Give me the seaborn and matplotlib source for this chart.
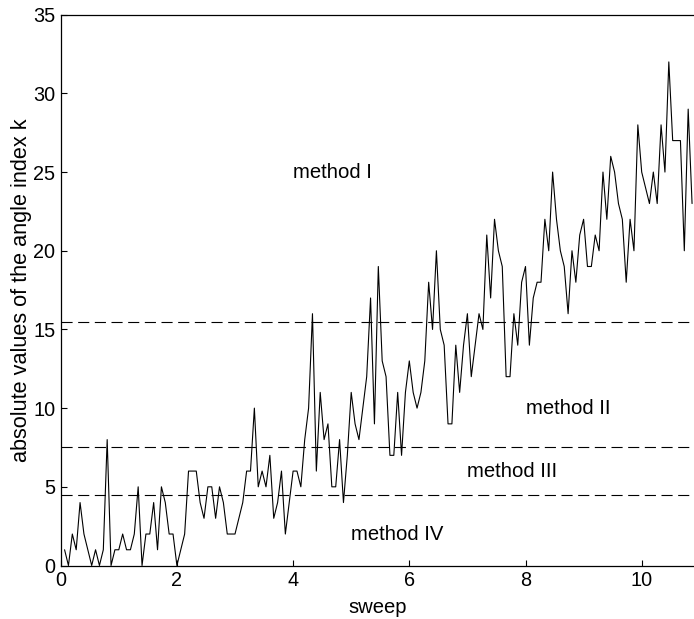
import numpy as np
import pandas as pd
import matplotlib
matplotlib.use("Agg")
import matplotlib.pyplot as plt
import seaborn as sns

# |k| per sample, one sample every 1/15 sweep
k_values = [
    1, 0, 2, 1, 4, 2, 1, 0, 1, 0, 1, 8, 0, 1, 1, 2, 1, 1, 2, 5, 0, 2, 2, 4, 1, 5, 4, 2, 2,
    0, 1, 2, 6, 6, 6, 4, 3, 5, 5, 3, 5, 4, 2, 2, 2, 3, 4, 6, 6, 10, 5, 6, 5, 7, 3, 4, 6,
    2, 4, 6, 6, 5, 8, 10, 16, 6, 11, 8, 9, 5, 5, 8, 4, 7, 11, 9, 8, 10, 12, 17, 9, 19, 13, 12,
    7, 7, 11, 7, 11, 13, 11, 10, 11, 13, 18, 15, 20, 15, 14, 9, 9, 14, 11, 14, 16, 12, 14, 16, 15, 21, 17, 22,
    20, 19, 12, 12, 16, 14, 18, 19, 14, 17, 18, 18, 22, 20, 25, 22, 20, 19, 16, 20, 18, 21, 22, 19, 19, 21, 20, 25,
    22, 26, 25, 23, 22, 18, 22, 20, 28, 25, 24, 23, 25, 23, 28, 25, 32, 27, 27, 27, 20, 29, 23,
]
samples_per_sweep = 15
sweep = [(i + 1) / samples_per_sweep for i in range(len(k_values))]

thresholds = [4.5, 7.5, 15.5]
region_labels = ["method I", "method II", "method III", "method IV"]
label_pos = [(4.0, 25), (8.0, 10), (7.0, 6), (5.0, 2)]

x_ticks = [0, 2, 4, 6, 8, 10]
y_ticks = [0, 5, 10, 15, 20, 25, 30, 35]

sns.set_style("ticks")
plt.rcParams["font.family"] = ["Liberation Sans", "DejaVu Sans"]
plt.rcParams["text.color"] = "black"
plt.rcParams["axes.labelcolor"] = "black"

df = pd.DataFrame({"sweep": sweep, "k": k_values})

W, H = 694, 619
fig = plt.figure(figsize=(W / 100, H / 100), dpi=100)
left, right, top, bottom = 60.7, 694, 14.7, 565.5
ax = fig.add_axes([left / W, 1 - bottom / H, (right - left) / W, (bottom - top) / H])

sns.lineplot(data=df, x="sweep", y="k", ax=ax, color="black", linewidth=0.8)

for t in thresholds:
    ax.axhline(t, color="black", linewidth=0.8, linestyle=(0, (10, 5)))

for txt, (tx, ty) in zip(region_labels, label_pos):
    ax.text(tx, ty, txt, ha="left", va="center", fontsize=14.6, color="black")

ax.set_xlim(0, (right - left) / 58.1)
ax.set_ylim(0, 35)
ax.set_xticks(x_ticks)
ax.set_yticks(y_ticks)
ax.tick_params(direction="in", length=4.5, width=0.8, labelsize=14.3, pad=4,
               colors="black", labelcolor="black")
for s in ["left", "bottom", "top"]:
    ax.spines[s].set_linewidth(0.9)
    ax.spines[s].set_color("black")
ax.spines["right"].set_visible(False)
ax.set_xlabel("sweep", fontsize=14.6, labelpad=5.5, color="black")
ax.set_ylabel("absolute values of the angle index k", fontsize=15.6, labelpad=0.5, color="black")

fig.savefig("out.png", dpi=100)
